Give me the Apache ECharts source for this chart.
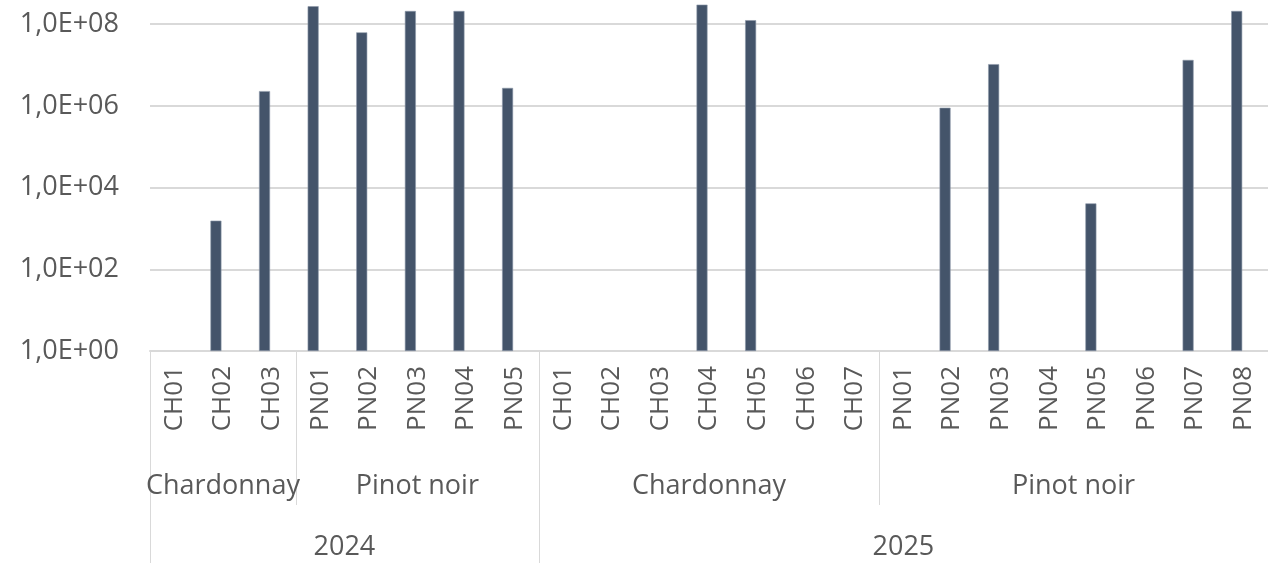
<!DOCTYPE html>
<html>
<head>
<meta charset="utf-8">
<script src="https://cdn.jsdelivr.net/npm/echarts@6/dist/echarts.min.js"></script>
<style>
html,body{margin:0;padding:0;background:#fff;}
#chart{width:1268px;height:563px;}
</style>
</head>
<body>
<div id="chart"></div>
<script>
// Category labels (23 samples)
const categories = ['CH01','CH02','CH03','PN01','PN02','PN03','PN04','PN05',
  'CH01','CH02','CH03','CH04','CH05','CH06','CH07',
  'PN01','PN02','PN03','PN04','PN05','PN06','PN07','PN08'];
// Variety groups: name and number of samples
const varietyNames = ['Chardonnay','Pinot noir','Chardonnay','Pinot noir'];
const varietySizes = [3, 5, 7, 8];
// Year groups
const yearNames = ['2024','2025'];
const yearSizes = [8, 15];
// Values (null = no bar)
const values = [null, 1.55e3, 2.3e6, 2.75e8, 6.3e7, 2.1e8, 2.1e8, 2.75e6,
  null, null, null, 3.0e8, 1.25e8, null, null,
  null, 9.0e5, 1.05e7, null, 4.1e3, null, 1.33e7, 2.1e8];
const emptySeries = categories.map(() => null);
// Y tick labels by exponent
const yTickLabels = {0:'1,0E+00', 2:'1,0E+02', 4:'1,0E+04', 6:'1,0E+06', 8:'1,0E+08'};
const yMax = 3.9e8; // top of visible plot (image is cropped above)

function bounds(sizes){ const b=[0]; sizes.forEach(s=>b.push(b[b.length-1]+s)); return b; }
function centers(sizes){ const b=bounds(sizes); return sizes.map((s,i)=>b[i]+s/2); }
const vB = bounds(varietySizes), vC = centers(varietySizes);
const yB = bounds(yearSizes), yC = centers(yearSizes);

const font = '"Open Sans", "Noto Sans", sans-serif';
const txt = '#595959';
const gridCol = '#d9d9d9';

const chart = echarts.init(document.getElementById('chart'), null, {renderer:'canvas'});
chart.setOption({
  animation: false,
  grid: {left: 150, right: 0, top: 0, bottom: 212, containLabel: false},
  xAxis: [
    {
      type: 'category', data: categories, position: 'bottom',
      axisLine: {show: true, lineStyle: {color: gridCol, width: 2}},
      axisTick: {show: false},
      axisLabel: {rotate: 90, margin: 15, fontSize: 26, color: txt, fontFamily: font, interval: 0}
    },
    {
      type: 'value', min: 0, max: categories.length, position: 'bottom',
      axisLine: {show: false}, splitLine: {show: false},
      axisTick: {show: true, customValues: vB, length: 154, lineStyle: {color: gridCol, width: 1}},
      axisLabel: {customValues: vC, margin: 122, fontSize: 27, color: txt, fontFamily: font,
        formatter: v => { const i = vC.indexOf(v); return i >= 0 ? varietyNames[i] : ''; }}
    },
    {
      type: 'value', min: 0, max: categories.length, position: 'bottom',
      axisLine: {show: false}, splitLine: {show: false},
      axisTick: {show: true, customValues: yB, length: 215, lineStyle: {color: gridCol, width: 1}},
      axisLabel: {customValues: yC, margin: 183, fontSize: 27, color: txt, fontFamily: font,
        formatter: v => { const i = yC.indexOf(v); return i >= 0 ? yearNames[i] : ''; }}
    }
  ],
  yAxis: {
    type: 'log', logBase: 10, min: 1, max: yMax, interval: 2,
    axisLine: {show: false}, axisTick: {show: false},
    splitLine: {show: true, showMaxLine: false, lineStyle: {color: gridCol, width: 2}},
    axisLabel: {margin: 31, fontSize: 27, color: txt, fontFamily: font, showMaxLabel: false,
      formatter: v => { const e = Math.log10(v); const r = Math.round(e); return Math.abs(e - r) < 1e-6 ? (yTickLabels[r] || '') : ''; }}
  },
  series: [
    {type: 'bar', name: 'Series 1', data: values, barWidth: 11, barGap: '27%',
      itemStyle: {color: '#44546a', borderColor: '#8d99aa', borderWidth: 0.6}},
    {type: 'bar', name: 'Series 2', data: emptySeries, barWidth: 11,
      itemStyle: {color: '#44546a'}}
  ]
});
</script>
</body>
</html>
